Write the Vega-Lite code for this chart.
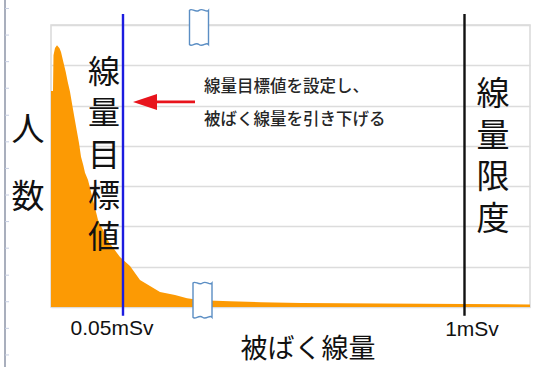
{
  "$schema": "https://vega.github.io/schema/vega-lite/v6.json",
  "width": 479,
  "height": 282,
  "autosize": {"type": "none"},
  "padding": {"left": 51, "top": 25, "right": 3, "bottom": 60},
  "background": "white",
  "config": {
    "view": {"stroke": "#d9d9d9", "strokeWidth": 1.5},
    "text": {"font": "Noto Sans CJK JP", "color": "#111111"}
  },
  "datasets": {
    "dist": [
      {"pos": 0, "count": 5.36}, {"pos": 2, "count": 5.36}, {"pos": 2.5, "count": 6.25},
      {"pos": 4, "count": 6.43}, {"pos": 6, "count": 6.5}, {"pos": 8.5, "count": 6.42},
      {"pos": 10, "count": 6.33}, {"pos": 12.3, "count": 6.09}, {"pos": 14.7, "count": 5.84},
      {"pos": 16.7, "count": 5.59}, {"pos": 19, "count": 5.34}, {"pos": 21.3, "count": 5.01},
      {"pos": 23.3, "count": 4.72}, {"pos": 25.7, "count": 4.39}, {"pos": 28, "count": 4.07},
      {"pos": 30, "count": 3.73}, {"pos": 32.3, "count": 3.52}, {"pos": 34, "count": 3.33},
      {"pos": 37, "count": 3.15}, {"pos": 42, "count": 2.66}, {"pos": 47, "count": 2.16},
      {"pos": 58, "count": 1.61}, {"pos": 69, "count": 1.24}, {"pos": 72, "count": 1.17},
      {"pos": 79, "count": 1.02}, {"pos": 89, "count": 0.67}, {"pos": 99, "count": 0.52},
      {"pos": 109, "count": 0.37}, {"pos": 124, "count": 0.3}, {"pos": 136, "count": 0.22},
      {"pos": 150, "count": 0.17}, {"pos": 179, "count": 0.14}, {"pos": 210, "count": 0.12},
      {"pos": 250, "count": 0.1}, {"pos": 330, "count": 0.085}, {"pos": 413, "count": 0.075},
      {"pos": 479, "count": 0.065}
    ],
    "limits": [
      {"pos": 72, "kind": "線量目標値", "label": "0.05mSv"},
      {"pos": 413.5, "kind": "線量限度", "label": "1mSv"}
    ],
    "edgeTicks": [
      {"ty": 7.41}, {"ty": 6.75}, {"ty": 6.09}, {"ty": 5.43}, {"ty": 4.76}, {"ty": 4.1},
      {"ty": 3.44}, {"ty": 2.78}, {"ty": 2.12}, {"ty": 1.46}, {"ty": 0.79}, {"ty": 0.13},
      {"ty": -0.53}, {"ty": -1.19}
    ],
    "one": [{}]
  },
  "layer": [
    {
      "data": {"name": "dist"},
      "mark": {"type": "area", "color": "#fc9a04", "interpolate": "linear"},
      "encoding": {
        "x": {"field": "pos", "type": "quantitative", "scale": {"domain": [0, 479], "nice": false, "zero": false}, "axis": null},
        "y": {"field": "count", "type": "quantitative", "scale": {"domain": [0, 7], "nice": false},
          "axis": {"title": null, "labels": false, "ticks": false, "domain": false, "grid": true,
            "values": [0, 1, 2, 3, 4, 5, 6, 7], "gridColor": "#dcdcdc", "gridWidth": 1.5}}
      }
    },
    {
      "data": {"name": "limits"},
      "mark": {"type": "rule", "strokeWidth": 2.4},
      "encoding": {
        "x": {"field": "pos", "type": "quantitative"},
        "y": {"datum": 7.27, "type": "quantitative"},
        "y2": {"datum": -0.22},
        "color": {"field": "kind", "type": "nominal", "scale": {"domain": ["線量目標値", "線量限度"], "range": ["#1c1ce0", "#111111"]}, "legend": null}
      }
    },
    {
      "data": {"name": "one"},
      "mark": {"type": "rule", "color": "#a9afbd", "strokeWidth": 2},
      "encoding": {
        "x": {"datum": -46, "type": "quantitative"},
        "y": {"datum": 7.62, "type": "quantitative"},
        "y2": {"datum": -1.49}
      }
    },
    {
      "data": {"name": "edgeTicks"},
      "mark": {"type": "rule", "color": "#c5cde0", "strokeWidth": 1},
      "encoding": {
        "x": {"datum": -46, "type": "quantitative"},
        "x2": {"datum": -42},
        "y": {"field": "ty", "type": "quantitative"}
      }
    },
    {
      "data": {"values": [{"pos": 148, "count": 6.94}, {"pos": 151.5, "count": 0.17}]},
      "mark": {"type": "point", "filled": false, "fill": "white", "fillOpacity": 1, "stroke": "#5b8ec4", "strokeWidth": 1.4, "opacity": 1,
        "shape": "M-0.5,-0.9 C-0.38,-1.05 -0.2,-0.75 0,-0.9 C0.2,-1.05 0.38,-0.75 0.5,-0.9 L0.5,0.9 C0.38,0.75 0.2,1.05 0,0.9 C-0.2,0.75 -0.38,1.05 -0.5,0.9 Z",
        "size": 1444},
      "encoding": {
        "x": {"field": "pos", "type": "quantitative"},
        "y": {"field": "count", "type": "quantitative"}
      }
    },
    {
      "data": {"name": "one"},
      "mark": {"type": "rule", "color": "#e8141c", "strokeWidth": 2.7},
      "encoding": {
        "x": {"datum": 99, "type": "quantitative"},
        "x2": {"datum": 144},
        "y": {"datum": 5.09, "type": "quantitative"}
      }
    },
    {
      "data": {"name": "one"},
      "mark": {"type": "point", "filled": true, "color": "#e8141c", "opacity": 1, "shape": "M-1,0 L1,-0.667 L1,0.667 Z", "size": 576},
      "encoding": {
        "x": {"datum": 94, "type": "quantitative"},
        "y": {"datum": 5.09, "type": "quantitative"}
      }
    },
    {
      "data": {"name": "one"},
      "mark": {"type": "text", "text": "線\n量\n目\n標\n値", "lineBreak": "\n", "lineHeight": 41.3, "fontSize": 32, "align": "center", "baseline": "middle"},
      "encoding": {
        "x": {"datum": 53, "type": "quantitative"},
        "y": {"datum": 5.81, "type": "quantitative"}
      }
    },
    {
      "data": {"name": "one"},
      "mark": {"type": "text", "text": "線\n量\n限\n度", "lineBreak": "\n", "lineHeight": 41.7, "fontSize": 33, "align": "center", "baseline": "middle"},
      "encoding": {
        "x": {"datum": 442, "type": "quantitative"},
        "y": {"datum": 5.26, "type": "quantitative"}
      }
    },
    {
      "data": {"name": "one"},
      "mark": {"type": "text", "text": "人\n数", "lineBreak": "\n", "lineHeight": 67, "fontSize": 33, "align": "center", "baseline": "middle"},
      "encoding": {
        "x": {"datum": -23, "type": "quantitative"},
        "y": {"datum": 4.37, "type": "quantitative"}
      }
    },
    {
      "data": {"name": "one"},
      "mark": {"type": "text", "text": "線量目標値を設定し、\n被ばく線量を引き下げる", "lineBreak": "\n", "lineHeight": 33, "fontSize": 16.5, "fontWeight": 500, "align": "left", "baseline": "middle", "color": "#262626"},
      "encoding": {
        "x": {"datum": 153, "type": "quantitative"},
        "y": {"datum": 5.46, "type": "quantitative"}
      }
    },
    {
      "data": {"name": "one"},
      "mark": {"type": "text", "text": "0.05mSv", "fontSize": 21, "font": "Liberation Sans Narrow, Liberation Sans", "align": "center", "baseline": "middle"},
      "encoding": {
        "x": {"datum": 61, "type": "quantitative"},
        "y": {"datum": -0.54, "type": "quantitative"}
      }
    },
    {
      "data": {"name": "one"},
      "mark": {"type": "text", "text": "1mSv", "fontSize": 21, "font": "Liberation Sans Narrow, Liberation Sans", "align": "center", "baseline": "middle"},
      "encoding": {
        "x": {"datum": 421, "type": "quantitative"},
        "y": {"datum": -0.56, "type": "quantitative"}
      }
    },
    {
      "data": {"name": "one"},
      "mark": {"type": "text", "text": "被ばく線量", "fontSize": 27, "align": "center", "baseline": "middle"},
      "encoding": {
        "x": {"datum": 257, "type": "quantitative"},
        "y": {"datum": -1.07, "type": "quantitative"}
      }
    }
  ]
}
